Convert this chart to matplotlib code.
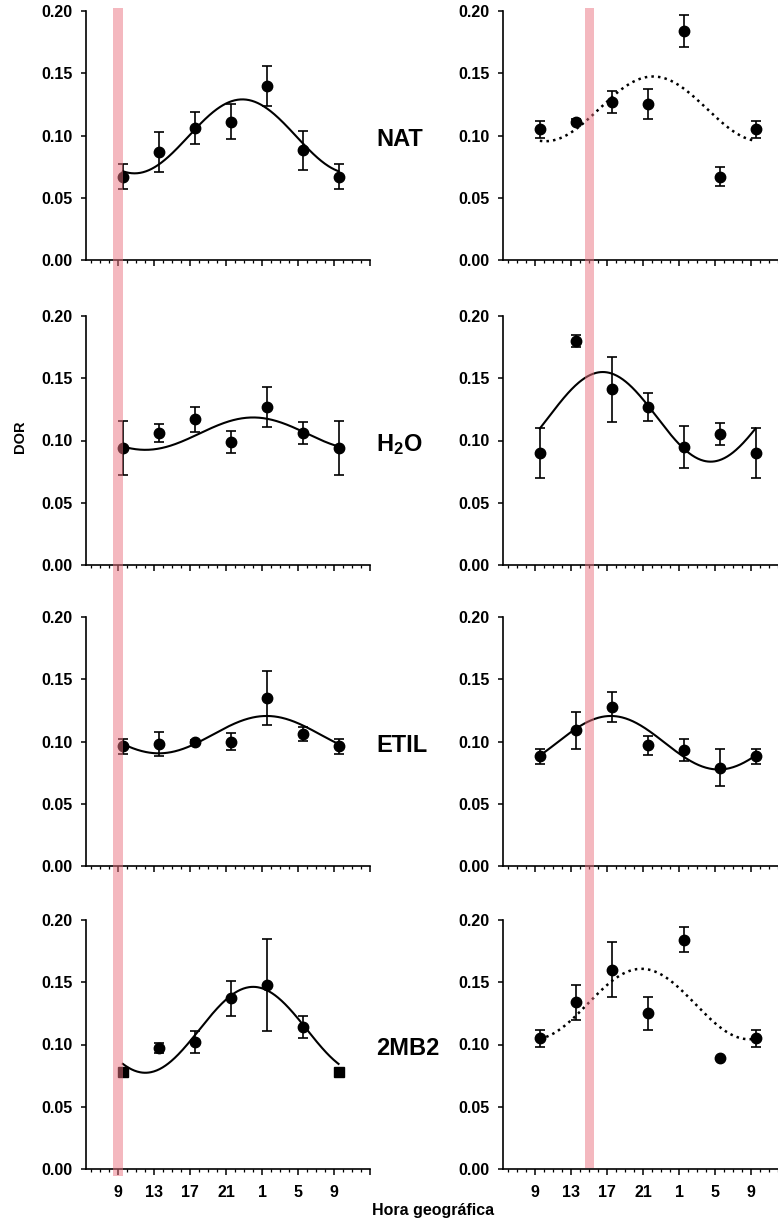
import matplotlib.pyplot as plt
import numpy as np
from matplotlib.patches import Rectangle
from matplotlib.transforms import blended_transform_factory

plt.rcParams['font.family'] = ['Liberation Sans', 'DejaVu Sans']
plt.rcParams['font.weight'] = 'bold'
plt.rcParams['mathtext.fontset'] = 'custom'
plt.rcParams['mathtext.rm'] = 'Liberation Sans:bold'
plt.rcParams['mathtext.default'] = 'rm'

# sampling times (clock hours, second day continues past 24)
hours = [9.5, 13.5, 17.5, 21.5, 25.5, 29.5, 33.5]
tick_pos = [9, 13, 17, 21, 25, 29, 33, 37]
tick_lab = ['9', '13', '17', '21', '1', '5', '9', '']

groups = ['NAT', 'H$_2$O', 'ETIL', '2MB2']

# left column
nat_l = [0.067, 0.087, 0.106, 0.111, 0.140, 0.088, 0.067]
nat_l_err = [0.010, 0.016, 0.013, 0.014, 0.016, 0.016, 0.010]
h2o_l = [0.094, 0.106, 0.117, 0.099, 0.127, 0.106, 0.094]
h2o_l_err = [0.022, 0.007, 0.010, 0.009, 0.016, 0.009, 0.022]
etil_l = [0.096, 0.098, 0.100, 0.100, 0.135, 0.106, 0.096]
etil_l_err = [0.006, 0.010, 0.001, 0.007, 0.022, 0.0056, 0.006]
mb2_l = [0.078, 0.097, 0.102, 0.137, 0.148, 0.114, 0.078]
mb2_l_err = [0.002, 0.004, 0.009, 0.014, 0.037, 0.0085, 0.002]

# right column
nat_r = [0.105, 0.111, 0.127, 0.125, 0.184, 0.067, 0.105]
nat_r_err = [0.007, 0.002, 0.009, 0.012, 0.013, 0.0074, 0.007]
h2o_r = [0.090, 0.180, 0.141, 0.127, 0.095, 0.105, 0.090]
h2o_r_err = [0.020, 0.005, 0.026, 0.011, 0.017, 0.009, 0.020]
etil_r = [0.088, 0.109, 0.128, 0.097, 0.093, 0.079, 0.088]
etil_r_err = [0.006, 0.015, 0.012, 0.0078, 0.009, 0.015, 0.006]
mb2_r = [0.105, 0.134, 0.160, 0.125, 0.184, 0.089, 0.105]
mb2_r_err = [0.007, 0.014, 0.022, 0.013, 0.010, 0.0, 0.007]

# cosinor fits: mesor, amplitude, acrophase (h)
fit_l = [(0.0993, 0.0297, 22.8), (0.1055, 0.013, 24.0),
         (0.1055, 0.015, 25.5), (0.1118, 0.0345, 24.0)]
fit_r = [(0.1214, 0.026, 22.1), (0.119, 0.036, 16.5),
         (0.099, 0.0215, 17.4), (0.1325, 0.0283, 20.8)]
signif_r = [False, True, True, False]

# light phase marks
band_l = (8.45, 9.55)
band_r = (14.5, 15.5)

left_y = [nat_l, h2o_l, etil_l, mb2_l]
left_e = [nat_l_err, h2o_l_err, etil_l_err, mb2_l_err]
right_y = [nat_r, h2o_r, etil_r, mb2_r]
right_e = [nat_r_err, h2o_r_err, etil_r_err, mb2_r_err]

W, H = 778, 1224
fig = plt.figure(figsize=(W / 100, H / 100), dpi=100)

row_bottom = [260, 565, 866, 1169]   # pixel row of y = 0
ax_h = 249
col_left = [86, 503]
ax_w = 284


def style(ax, last):
    ax.set_xlim(5.4, 37)
    ax.set_ylim(0, 0.2)
    for s in ['top', 'right']:
        ax.spines[s].set_visible(False)
    for s in ['left', 'bottom']:
        ax.spines[s].set_linewidth(1.2)
    ax.set_yticks([0, 0.05, 0.10, 0.15, 0.20])
    ax.set_yticklabels(['%.2f' % v for v in [0, 0.05, 0.10, 0.15, 0.20]])
    ax.set_xticks(tick_pos)
    ax.set_xticks(np.arange(6, 38, 1), minor=True)
    ax.set_xticklabels(tick_lab if last else [])
    ax.tick_params(axis='y', length=3.8, width=1.1, pad=6, labelsize=11.5)
    ax.tick_params(axis='x', which='major', length=4.5, width=1.1, pad=7,
                   labelsize=11.5)
    ax.tick_params(axis='x', which='minor', length=1.8, width=0.9)
    ax.patch.set_alpha(0)


tt = np.linspace(hours[0], hours[-1], 300)

for i in range(4):
    y0 = (H - row_bottom[i]) / H
    for j in range(2):
        ax = fig.add_axes([col_left[j] / W, y0, ax_w / W, ax_h / H])
        style(ax, i == 3)
        if j == 0:
            yy, ee, fit, solid = left_y[i], left_e[i], fit_l[i], True
        else:
            yy, ee, fit, solid = right_y[i], right_e[i], fit_r[i], signif_r[i]
        m, a, phi = fit
        curve = m + a * np.cos(2 * np.pi * (tt - phi) / 24)
        if solid:
            ax.plot(tt, curve, color='black', lw=1.5, zorder=2)
        else:
            ax.plot(tt, curve, color='black', lw=1.8, ls=':', zorder=2)
        ax.errorbar(hours, yy, yerr=ee, fmt='none', ecolor='black',
                    elinewidth=1.2, capsize=3.3, capthick=1.2, zorder=3)
        if i == 3 and j == 0:
            # first and last points are squares in this series
            ax.plot(hours[1:-1], yy[1:-1], 'o', color='black', ms=7.5, zorder=4)
            ax.plot([hours[0], hours[-1]], [yy[0], yy[-1]], 's', color='black',
                    ms=6.5, zorder=4)
        else:
            ax.plot(hours, yy, 'o', color='black', ms=7.5, zorder=4)

        if i == 0:
            band = band_l if j == 0 else band_r
            tr = blended_transform_factory(ax.transData, fig.transFigure)
            top = 1 - 8 / H
            bot = (H - (1176 if j == 0 else 1168)) / H
            fig.add_artist(Rectangle((band[0], bot), band[1] - band[0], top - bot,
                                     transform=tr, facecolor='#eb7380',
                                     alpha=0.5, edgecolor='none', zorder=10))

    fig.text(376 / W, (H - (row_bottom[i] - 0.097 * ax_h / 0.2)) / H, groups[i],
             fontsize=17, fontweight='bold', ha='left', va='center')

fig.text(20 / W, (H - 437) / H, 'DOR', rotation=90, fontsize=10.5,
         fontweight='bold', ha='center', va='center')
fig.text(433 / W, (H - 1211) / H, 'Hora geográfica', fontsize=11.5,
         fontweight='bold', ha='center', va='center')

fig.savefig('out.png', dpi=100)
